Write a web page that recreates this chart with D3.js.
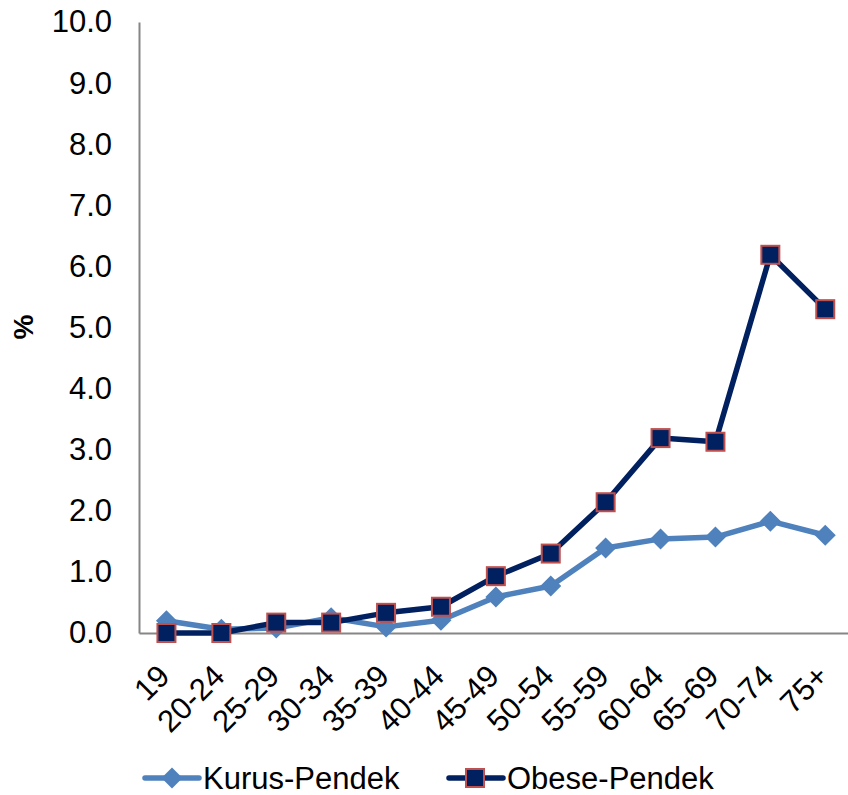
<!DOCTYPE html>
<html>
<head>
<meta charset="utf-8">
<script src="https://cdn.jsdelivr.net/npm/d3@7"></script>
<style>
  html, body { margin: 0; padding: 0; background: #fff; }
  svg { display: block; font-family: "Liberation Sans", Arial, sans-serif; }
</style>
</head>
<body>
<svg id="chart" width="848" height="795"></svg>
<script>
// Age groups and prevalence (%) for the two combined nutrition categories
const categories = ["19", "20-24", "25-29", "30-34", "35-39", "40-44", "45-49",
                    "50-54", "55-59", "60-64", "65-69", "70-74", "75+"];
const kurusPendek = [0.2, 0.06, 0.08, 0.25, 0.1, 0.21, 0.59, 0.77, 1.39, 1.54, 1.57, 1.83, 1.6];
const obesePendek = [0.0, 0.0, 0.17, 0.17, 0.33, 0.43, 0.93, 1.3, 2.14, 3.19, 3.13, 6.19, 5.3];
const yTicks = [0, 1, 2, 3, 4, 5, 6, 7, 8, 9, 10];
const seriesNames = ["Kurus-Pendek", "Obese-Pendek"];

const svg = d3.select("#chart");
const plotLeft = 139, plotTop = 22, plotBottom = 633;
const step = 54.9;

const x = d3.scalePoint().domain(categories)
  .range([plotLeft, plotLeft + step * categories.length]).padding(0.5);
const y = d3.scaleLinear().domain([0, 10]).range([plotBottom, plotTop]);

const fontSize = 31;

// Y axis: line plus labels, no tick marks
const yAxis = svg.append("g").attr("transform", `translate(${plotLeft},0)`)
  .call(d3.axisLeft(y).tickValues(yTicks).tickSize(0).tickPadding(27)
    .tickFormat(d3.format(".1f")));
yAxis.select(".domain").attr("stroke", "#868686").attr("stroke-width", 2);
yAxis.selectAll("text").attr("font-size", fontSize).attr("fill", "#000")
  .attr("font-family", "Liberation Sans, Arial, sans-serif");

// X axis line
const xAxis = svg.append("g").attr("transform", `translate(0,${plotBottom})`)
  .call(d3.axisBottom(x).tickSize(0).tickFormat(""));
xAxis.select(".domain").attr("stroke", "#868686").attr("stroke-width", 2);

// Rotated category labels, each ending just right of its category
svg.append("g").selectAll("text").data(categories).join("text")
  .attr("transform", d => `translate(${x(d) + 5},${plotBottom + 45}) rotate(-45)`)
  .attr("text-anchor", "end")
  .attr("font-size", fontSize)
  .attr("fill", "#000")
  .text(d => d);

// Y axis title
svg.append("text")
  .attr("transform", `translate(33,327) rotate(-90)`)
  .attr("text-anchor", "middle")
  .attr("font-size", 28)
  .attr("font-weight", "bold")
  .text("%");

const line = d3.line().x((d, i) => x(categories[i])).y(d => y(d));

const kurusColor = "#4f81bd";
const obeseColor = "#002060";
const obeseEdge = "#c0504d";
const diamondPath = "M0,-10.5 L10.5,0 L0,10.5 L-10.5,0 Z";

// Kurus-Pendek series
svg.append("path").datum(kurusPendek)
  .attr("d", line).attr("fill", "none")
  .attr("stroke", kurusColor).attr("stroke-width", 5.5).attr("stroke-linejoin", "round");
svg.append("g").selectAll("path").data(kurusPendek).join("path")
  .attr("transform", (d, i) => `translate(${x(categories[i])},${y(d)})`)
  .attr("d", diamondPath)
  .attr("fill", kurusColor);

// Obese-Pendek series
svg.append("path").datum(obesePendek)
  .attr("d", line).attr("fill", "none")
  .attr("stroke", obeseColor).attr("stroke-width", 5.5).attr("stroke-linejoin", "round");
svg.append("g").selectAll("rect").data(obesePendek).join("rect")
  .attr("x", (d, i) => x(categories[i]) - 9)
  .attr("y", d => y(d) - 9)
  .attr("width", 18).attr("height", 18)
  .attr("fill", obeseColor)
  .attr("stroke", obeseEdge).attr("stroke-width", 2);

// Legend
const legend = svg.append("g").attr("transform", "translate(0,778)");
const items = [
  { name: seriesNames[0], x0: 143, color: kurusColor, marker: "diamond" },
  { name: seriesNames[1], x0: 447, color: obeseColor, marker: "square" }
];
items.forEach(it => {
  const g = legend.append("g").attr("transform", `translate(${it.x0},0)`);
  g.append("line").attr("x1", 2).attr("x2", 56).attr("y1", 0).attr("y2", 0)
    .attr("stroke", it.color).attr("stroke-width", 5.5).attr("stroke-linecap", "round");
  if (it.marker === "diamond") {
    g.append("path").attr("transform", "translate(29,0)").attr("d", diamondPath).attr("fill", it.color);
  } else {
    g.append("rect").attr("x", 19).attr("y", -9).attr("width", 18).attr("height", 18)
      .attr("fill", it.color).attr("stroke", obeseEdge).attr("stroke-width", 2);
  }
  g.append("text").attr("x", 60).attr("y", 11)
    .attr("font-size", fontSize).attr("fill", "#000").text(it.name);
});
</script>
</body>
</html>
